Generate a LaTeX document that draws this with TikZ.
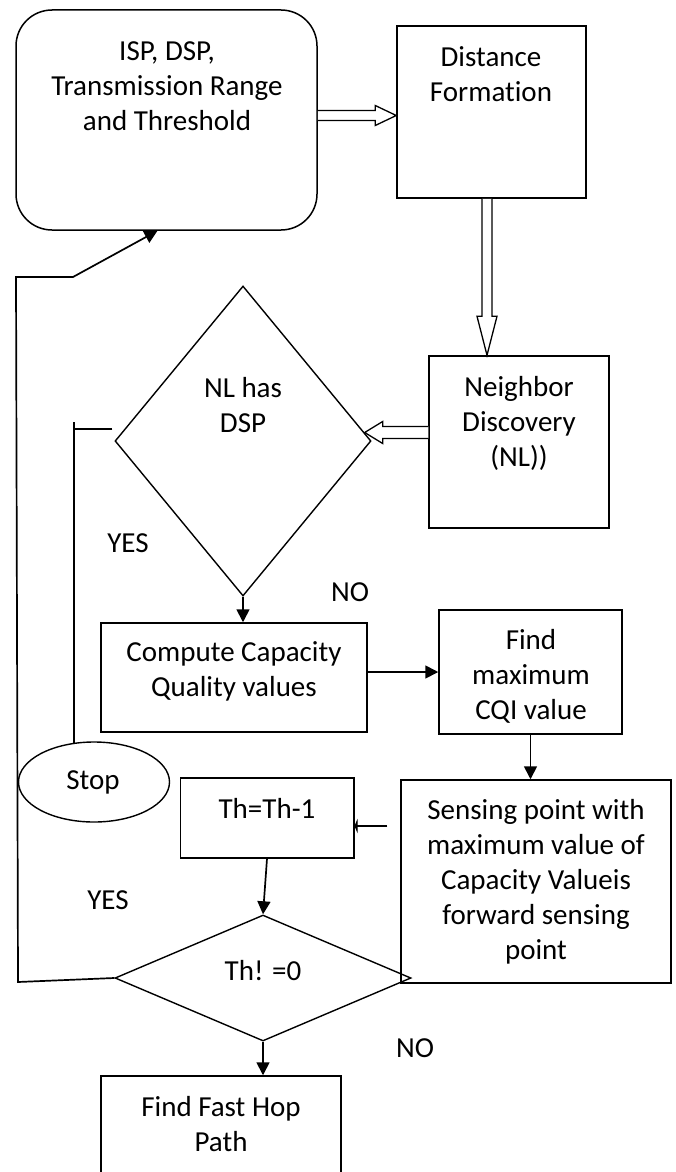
\documentclass[tikz,border=0pt]{standalone}
\usepackage{fontspec}
\setmainfont{Carlito}[Ligatures=NoCommon]
\usetikzlibrary{arrows.meta,calc,shapes.geometric}

% hollow block arrow from #1 to #2: shaft half width #3, head length #4, head half width #5
\newcommand\blockarrow[5]{%
  \coordinate (bahead) at ($(#2)!#4!(#1)$);
  \draw[hollowarrow] ($(#1)!#3!90:(#2)$) -- ($(bahead)!#3!90:(#2)$)
    -- ($(bahead)!#5!90:(#2)$) -- (#2) -- ($(bahead)!#5!-90:(#2)$)
    -- ($(bahead)!#3!-90:(#2)$) -- ($(#1)!#3!-90:(#2)$);
}

\tikzset{
  box/.style={draw, line width=1.5pt, inner sep=0pt},
  decision/.style={diamond, draw, line width=1.4pt, inner sep=0pt},
  terminal/.style={ellipse, draw, line width=1.4pt, inner sep=0pt},
  lbl/.style={font=\fontsize{29}{35}\selectfont, align=center, inner sep=0pt},
  flow/.style={line width=1.7pt, -{Triangle[length=13pt,width=13pt]}},
  plain/.style={line width=1.4pt},
  hollowarrow/.style={draw, fill=white, line width=1.3pt, line join=miter},
}

\begin{document}
\begin{tikzpicture}[x=1pt, y=-1pt]
\useasboundingbox (0,0) rectangle (676,1172);

% shapes
\node[box, rounded corners=36pt, minimum width=301pt, minimum height=220pt] (start) at (166.5,120) {};
\node[box, minimum width=189pt, minimum height=172pt] (dist) at (491.5,112) {};
\node[box, minimum width=180pt, minimum height=172pt] (nbr) at (519,442) {};
\node[decision, minimum width=256pt, minimum height=310pt] (nl) at (243,441) {};
\node[box, minimum width=266pt, minimum height=109pt] (compute) at (234,677.5) {};
\node[box, minimum width=183pt, minimum height=124pt] (findmax) at (530.5,672) {};
\node[terminal, minimum width=151pt, minimum height=80pt] (stop) at (94,782) {};
\node[box, minimum width=173.5pt, minimum height=80pt] (thdec) at (267,818) {};
\node[box, minimum width=270pt, minimum height=203pt] (sense) at (536,881.5) {};
\node[decision, minimum width=296pt, minimum height=126pt] (thd) at (263,978) {};
\node[box, minimum width=240pt, minimum height=124pt] (fast) at (221,1138) {};

% texts
\node[lbl] (startT) at (167,86) {ISP, DSP,\\Transmission Range\\and Threshold};
\node[lbl] (distT) at (491,74) {Distance\\Formation};
\node[lbl] (nbrT) at (519,423) {Neighbor\\Discovery\\(NL))};
\node[lbl] (nlT) at (243,405.5) {NL has\\DSP};
\node[lbl] (computeT) at (234,671) {Compute Capacity\\Quality values};
\node[lbl] (findmaxT) at (531,676.5) {Find\\maximum\\CQI value};
\node[lbl] (stopT) at (93,782) {Stop};
\node[lbl] (thdecT) at (267,808) {Th=Th-1};
\node[lbl] (senseT) at (536,881.5) {Sensing point with\\maximum value of\\Capacity Valueis\\forward sensing\\point};
\node[lbl] (thdT) at (263,971) {Th! =0};
\node[lbl] (fastT) at (221,1124.5) {Find Fast Hop\\Path};
\node[lbl] (yes1) at (128,543) {YES};
\node[lbl] (no1) at (350,592) {NO};
\node[lbl] (yes2) at (108,900) {YES};
\node[lbl] (no2) at (415,1048) {NO};

% hollow arrows
\coordinate (r1) at ($(start.east)+(0,-4.5)$);
\coordinate (r2) at (r1 -| dist.west);
\blockarrow{r1}{r2}{5pt}{21pt}{10pt}
\coordinate (d1) at ($(dist.south)+(-4.5,0)$);
\coordinate (d2) at (d1 |- nbr.north);
\blockarrow{d1}{d2}{5pt}{39pt}{10pt}
\coordinate (n2) at (nl.4);
\coordinate (n1) at (n2 -| nbr.west);
\blockarrow{n1}{n2}{6pt}{18pt}{11pt}

% solid connectors
\draw[flow] (nl.south) -- (nl.south |- compute.north);
\draw[flow] (compute.east |- findmax.west) -- (findmax.west);
\draw[flow] (findmax.south) -- (findmax.south |- sense.north);
\coordinate (senseL) at ($(sense.west)+(-13,-55.5)$);
\draw[line width=1.7pt, -{Triangle[length=3pt,width=14pt]}] (senseL) -- (senseL -| thdec.east);
\draw[flow] (thdec.south) -- (thd.north);
\draw[flow] (thd.south) -- (thd.south |- fast.north);
\draw[flow] (thd.west) -- (18,982) -- (16,277) -- (73,277) -- ($(start.south)+(-9,0)$);

% exit from the NL decision to Stop
\coordinate (nlL) at ($(nl.west)+(-2,-12)$);
\draw[plain] (nlL) -- (74,0 |- nlL);
\draw[plain] (stop.117) -- (stop.117 |- 0,422);
\end{tikzpicture}
\end{document}
